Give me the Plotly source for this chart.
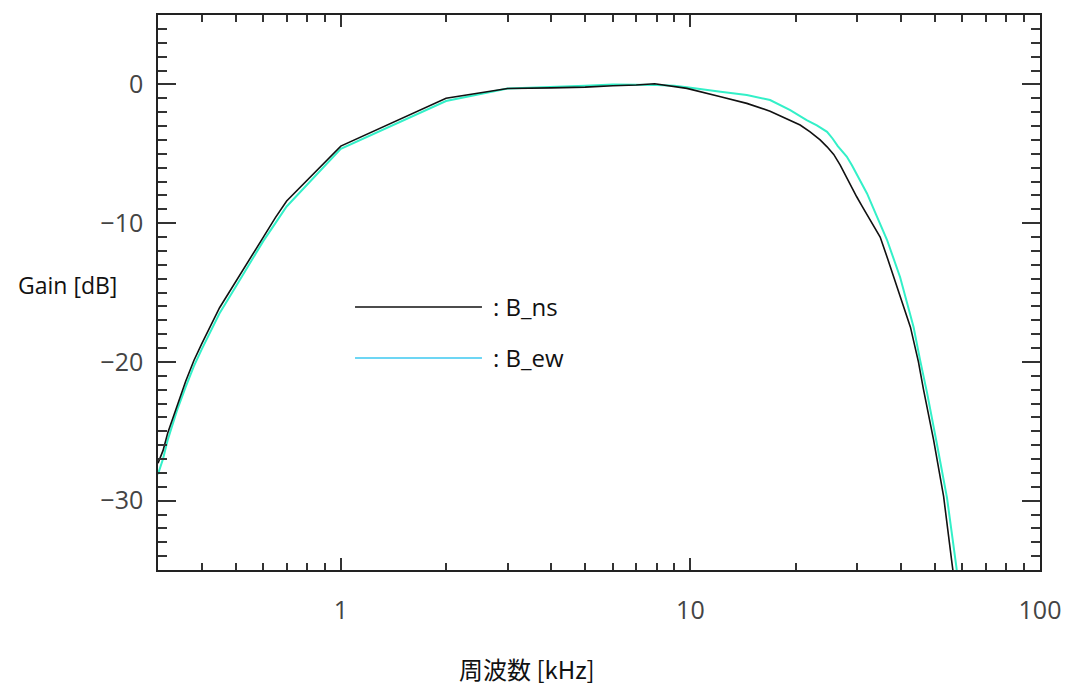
import plotly.graph_objects as go

# ---- data ----
freq_ns = [0.30, 0.31, 0.32, 0.33, 0.34, 0.36, 0.38, 0.40, 0.45, 0.50, 0.55, 0.60, 0.65, 0.70,
           1.0, 2.0, 3.0, 4.0, 5.0, 6.0, 7.0, 7.9, 9.0, 9.77, 12.2, 14.5, 16.9, 19.3, 20.6,
           22.0, 23.5, 24.6, 25.7, 26.8, 27.8, 28.8, 29.9, 31.0, 32.3, 33.6, 34.9, 36.7,
           39.0, 42.6, 44.9, 46.4, 49.6, 53.0, 56.0, 57.2]
gain_ns = [-27.3, -26.4, -25.1, -24.1, -23.1, -21.4, -19.9, -18.7, -16.1, -14.25, -12.5,
           -10.95, -9.6, -8.4, -4.45, -1.0, -0.3, -0.25, -0.2, -0.1, -0.05, 0.05, -0.15,
           -0.29, -0.89, -1.37, -1.93, -2.57, -2.93, -3.42, -4.0, -4.5, -5.05, -5.8, -6.6,
           -7.35, -8.1, -8.8, -9.6, -10.3, -11.0, -12.6, -14.6, -17.5, -20.0, -21.96, -25.6,
           -29.7, -34.5, -36.3]

freq_ew = [0.30, 0.31, 0.32, 0.33, 0.34, 0.36, 0.38, 0.40, 0.45, 0.50, 0.55, 0.60, 0.65, 0.70,
           1.0, 2.0, 3.0, 4.0, 5.0, 6.0, 7.0, 8.0, 9.0, 9.77, 12.2, 14.5, 16.9, 19.3, 21.5,
           23.0, 24.6, 25.5, 26.4, 27.2, 28.0, 29.0, 29.9, 32.0, 34.0, 36.5, 39.8, 43.5,
           45.4, 47.5, 50.7, 54.2, 57.6, 58.6]
gain_ew = [-28.1, -27.0, -25.6, -24.5, -23.5, -21.8, -20.3, -19.1, -16.5, -14.6, -12.9,
           -11.3, -10.0, -8.8, -4.65, -1.2, -0.3, -0.2, -0.1, 0.0, 0.0, -0.05, -0.1, -0.2,
           -0.53, -0.77, -1.13, -1.85, -2.57, -2.95, -3.42, -3.9, -4.45, -4.8, -5.2, -5.85,
           -6.5, -7.86, -9.4, -11.2, -13.9, -17.5, -19.87, -22.2, -25.9, -29.8, -34.7, -36.3]

x_tickvals = [1, 10, 100]
x_ticktext = ["1", "10", "100"]
y_tickvals = [0, -10, -20, -30]
y_ticktext = ["0", "\u221210", "\u221220", "\u221230"]

series_names = [": B_ns", ": B_ew"]
ns_color = "#111111"
ew_color = "#33F0C8"
legend_ew_color = "#3CC8F0"

x_minor = [m * 10 ** e for e in (-1, 0, 1) for m in range(2, 10)]

fig = go.Figure()
fig.add_trace(go.Scatter(x=freq_ew, y=gain_ew, mode="lines",
                         line=dict(color=ew_color, width=2), showlegend=False))
fig.add_trace(go.Scatter(x=freq_ns, y=gain_ns, mode="lines",
                         line=dict(color=ns_color, width=1.6), showlegend=False))

tick_font = dict(family="Open Sans, DejaVu Sans, sans-serif", size=25, color="#444444")

fig.update_xaxes(type="log", range=[-0.5229, 2.0], automargin=False,
                 showline=True, linecolor="#222222", linewidth=1.5, mirror="ticks",
                 ticks="inside", ticklen=12, tickwidth=1.5, tickcolor="#333333",
                 tickvals=x_tickvals, ticktext=x_ticktext, tickfont=tick_font,
                 ticklabelstandoff=17,
                 minor=dict(ticks="inside", ticklen=7, tickwidth=1.5, tickcolor="#333333",
                            tickvals=x_minor, showgrid=False),
                 showgrid=False, zeroline=False)
fig.update_yaxes(range=[-35, 5], automargin=False,
                 showline=True, linecolor="#222222", linewidth=1.5, mirror="ticks",
                 ticks="inside", ticklen=18, tickwidth=1.5, tickcolor="#333333",
                 tickvals=y_tickvals, ticktext=y_ticktext, tickfont=tick_font,
                 ticklabelstandoff=8,
                 minor=dict(ticks="inside", ticklen=9, tickwidth=1.5, tickcolor="#333333",
                            dtick=1, showgrid=False),
                 showgrid=False, zeroline=False)

# legend drawn as line samples + labels
legend_rows = [(0.4739, ns_color), (0.382, legend_ew_color)]
for (yp, col), name in zip(legend_rows, series_names):
    fig.add_shape(type="line", xref="paper", yref="paper", x0=0.2234, x1=0.3673,
                  y0=yp, y1=yp, line=dict(color=col, width=1.3))
    fig.add_annotation(x=0.378, y=yp, xref="paper", yref="paper", text=name,
                       showarrow=False, xanchor="left", yanchor="middle",
                       font=dict(family="Open Sans, sans-serif", size=24, color="#111111"))

fig.add_annotation(x=0, y=0.5135, xref="paper", yref="paper", text="Gain [dB]",
                   showarrow=False, xanchor="right", yanchor="middle", xshift=-39,
                   font=dict(family="Open Sans, sans-serif", size=23, color="#111111"))
fig.add_annotation(x=0.418, y=-0.178, xref="paper", yref="paper", text="周波数 [kHz]",
                   showarrow=False, xanchor="center", yanchor="middle",
                   font=dict(family="Noto Sans CJK JP, sans-serif", size=24, color="#111111"))

fig.update_layout(width=1066, height=688, margin=dict(l=158, r=26, t=15, b=118),
                  plot_bgcolor="white", paper_bgcolor="white", showlegend=False)

fig.write_html("out.html")
